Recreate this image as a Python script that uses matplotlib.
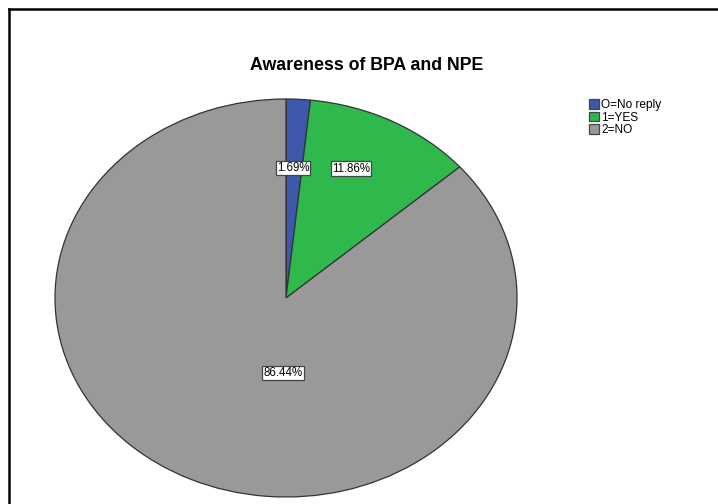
import matplotlib
matplotlib.use("Agg")
import matplotlib.pyplot as plt
from matplotlib.patches import Patch
from matplotlib.lines import Line2D

plt.rcParams['font.family'] = ['Liberation Sans', 'DejaVu Sans']

# Response shares (percent)
categories = ["O=No reply", "1=YES", "2=NO"]
shares = [1.69, 11.86, 86.44]
colors = ["#3e58ac", "#2fb84b", "#999999"]
title = "Awareness of BPA and NPE"

# Label anchor points inside the (stretched) unit pie
label_pos = [(0.030, 0.653), (0.281, 0.650), (-0.013, -0.377)]

W, H = 718, 504
fig = plt.figure(figsize=(W / 100, H / 100), dpi=100)

# Pie occupies an elliptical region: x 55..517, y 99..497 (pixels from top)
px_l, px_r, px_t, px_b = 55, 517, 99, 497
ax = fig.add_axes([px_l / W, 1 - px_b / H, (px_r - px_l) / W, (px_b - px_t) / H])

wedges, _ = ax.pie(shares, colors=colors, startangle=90, counterclock=False,
                   radius=1.0,
                   wedgeprops=dict(edgecolor="#333333", linewidth=0.9))
for w in wedges:
    w.set_clip_on(False)
ax.set_aspect('auto')
ax.set_xlim(-1, 1)
ax.set_ylim(-1, 1)
ax.axis('off')

for v, (x, y) in zip(shares, label_pos):
    ax.text(x, y, f"{v:.2f}%", ha='center', va='center', fontsize=8.3,
            color='black',
            bbox=dict(boxstyle='square,pad=0.1', facecolor='white',
                      edgecolor='#444444', linewidth=0.9))

fig.text(367 / W, 1 - 65 / H, title, ha='center', va='center',
         fontsize=12.8, fontweight='bold')

handles = [Patch(facecolor=c, edgecolor='#444444', linewidth=0.9) for c in colors]
fig.legend(handles, categories, loc='upper left',
           bbox_to_anchor=(589 / W, 1 - 99 / H), frameon=False,
           fontsize=8.6, handlelength=0.85, handleheight=0.85,
           handletextpad=0.15, labelspacing=0.05, borderpad=0,
           borderaxespad=0)

# Frame: top and left edges
fig.add_artist(Line2D([8.5 / W, 1], [1 - 9 / H, 1 - 9 / H], color='black',
                      linewidth=1.8, transform=fig.transFigure))
fig.add_artist(Line2D([8.5 / W, 8.5 / W], [0, 1 - 9 / H], color='black',
                      linewidth=1.8, transform=fig.transFigure))

fig.savefig("out.png", dpi=100)
